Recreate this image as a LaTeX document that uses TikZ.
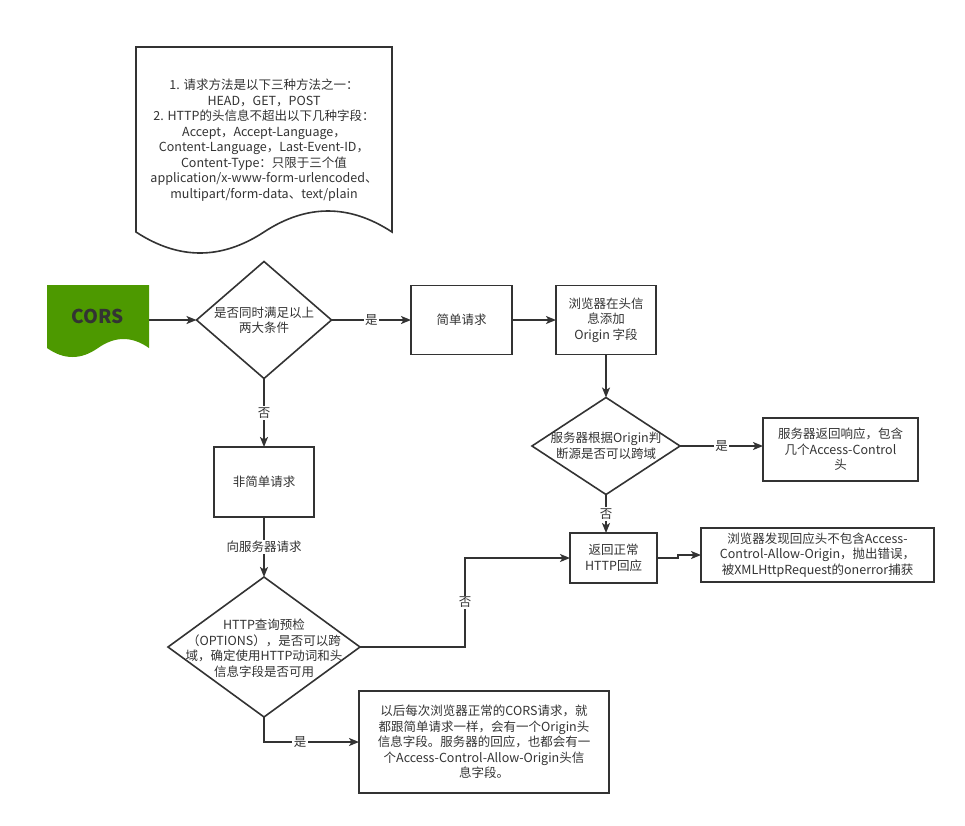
\documentclass[tikz,border=0pt]{standalone}
\usepackage{fontspec}
\setmainfont{Noto Sans CJK SC}
\usetikzlibrary{shapes.geometric,arrows.meta}
\definecolor{ink}{HTML}{333333}
\definecolor{leaf}{HTML}{4D9900}
\begin{document}
\begin{tikzpicture}[x=1pt,y=-1pt,
  every node/.style={font=\fontsize{12.5}{15.5}\selectfont, text=ink},
  line/.style={draw=ink, line width=1.6pt},
  arrow/.style={line, -{Stealth[length=10pt,width=8pt,inset=2.5pt]}},
  box/.style={draw=ink, line width=1.6pt, rectangle, align=center, inner sep=0pt, outer sep=0pt},
  dia/.style={draw=ink, line width=1.6pt, diamond, inner sep=0pt, outer sep=0pt},
  lbl/.style={fill=white, inner sep=1.5pt}
]
\path[use as bounding box] (0,0) rectangle (965,825);

% note sheet listing the two conditions
\draw[line, fill=white] (136,47) -- (392,47) -- (392,232)
  .. controls (349.3,204) and (306.7,204) .. (264,232)
  .. controls (221.3,260) and (178.7,260) .. (136,232) -- cycle;
\node[align=center] (cond) at (264,140) {1. 请求方法是以下三种方法之一：\\HEAD，GET，POST\\2. HTTP的头信息不超出以下几种字段：\\Accept，Accept-Language，\\Content-Language，Last-Event-ID，\\Content-Type：只限于三个值\\application/x-www-form-urlencoded、\\multipart/form-data、text/plain};

% start sheet
\fill[leaf] (47,285) -- (149,285) -- (149,348)
  .. controls (132,336) and (115,336) .. (98,348)
  .. controls (81,360) and (64,360) .. (47,348) -- cycle;
\node[minimum width=102pt, minimum height=63pt, inner sep=0pt, outer sep=0pt,
  font=\fontsize{19}{19}\selectfont\bfseries] (cors) at (98,316.5) {CORS};

% decisions
\node[dia, minimum width=135pt, minimum height=117pt] (d1) at (264,320) {};
\node[align=center] at (d1) {是否同时满足以上\\两大条件};
\node[dia, minimum width=148pt, minimum height=97pt] (d2) at (606,446) {};
\node[align=center] at (d2) {服务器根据Origin判\\断源是否可以跨域};
\node[dia, minimum width=192pt, minimum height=140pt] (d3) at (264,647) {};
\node[align=center] at (264,648) {HTTP查询预检\\（OPTIONS），是否可以跨\\域，确定使用HTTP动词和头\\信息字段是否可用};

% process boxes
\node[box, minimum width=101pt, minimum height=69pt] (simple) at (461.5,320) {简单请求};
\node[box, minimum width=100pt, minimum height=69pt] (origin) at (606,320) {浏览器在头信\\息添加\\Origin 字段};
\node[box, minimum width=155pt, minimum height=63pt] (resp) at (840.5,449.5) {服务器返回响应，包含\\几个Access-Control\\头};
\node[box, minimum width=87pt, minimum height=50pt] (ret) at (613.5,558) {返回正常\\HTTP回应};
\node[box, minimum width=233pt, minimum height=54pt] (err) at (817.5,555) {浏览器发现回应头不包含Access-\\Control-Allow-Origin，抛出错误，\\被XMLHttpRequest的onerror捕获};
\node[box, minimum width=100pt, minimum height=70pt] (nonsimple) at (264,482) {非简单请求};
\node[box, minimum width=250pt, minimum height=102pt] (after) at (484,742) {以后每次浏览器正常的CORS请求，就\\都跟简单请求一样，会有一个Origin头\\信息字段。服务器的回应，也都会有一\\个Access-Control-Allow-Origin头信\\息字段。};

% connectors
\draw[arrow] (cors.east |- d1.west) -- (d1.west);
\draw[arrow] (d1.east) -- node[lbl]{是} (simple.west);
\draw[arrow] (simple.east) -- (origin.west);
\draw[arrow] (origin.south) -- (d2.north);
\draw[arrow] (d2.east) -- node[lbl]{是} (d2.east -| resp.west);
\draw[arrow] (d2.south) -- node[lbl]{否} (d2.south |- ret.north);
\draw[arrow] (ret.east) -- ++(21,0) |- (err.west);
\draw[arrow] (d1.south) -- node[lbl]{否} (nonsimple.north);
\draw[arrow] (nonsimple.south) -- node[lbl]{向服务器请求} (d3.north);
\draw[arrow] (d3.east) -- ++(105,0) |- node[lbl,pos=0.25]{否} (ret.west);
\draw[arrow] (d3.south) |- node[lbl,pos=0.69]{是} (after.west);
\end{tikzpicture}
\end{document}
